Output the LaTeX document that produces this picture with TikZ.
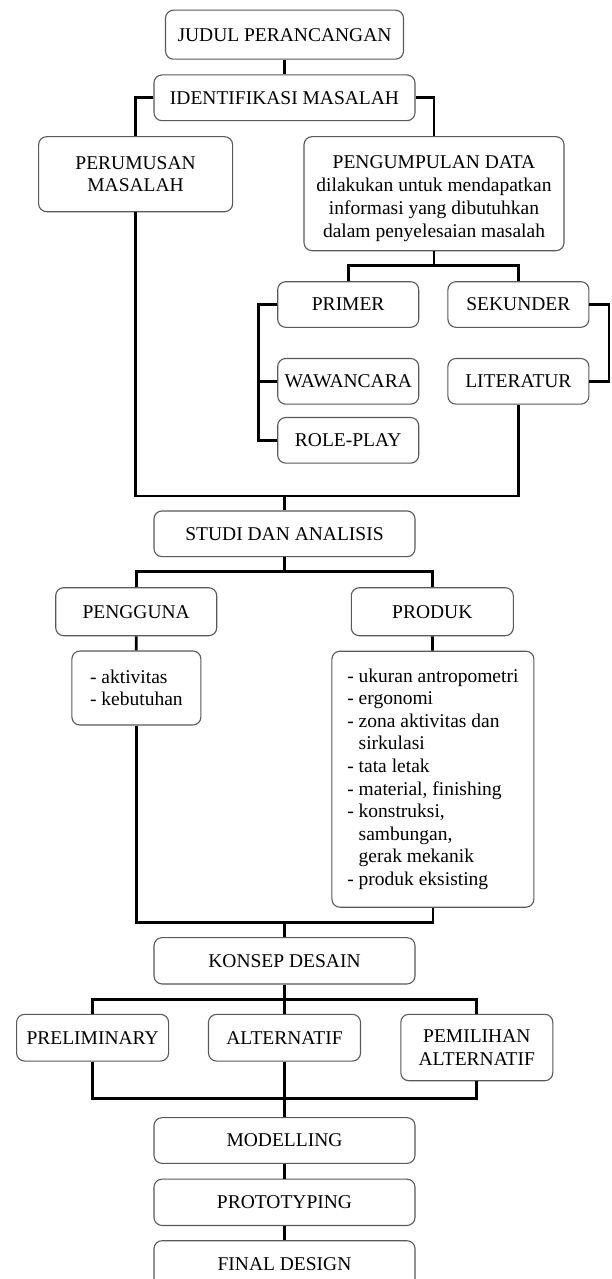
\documentclass[tikz,border=0pt]{standalone}
\usepackage{fontspec}
\setmainfont{Liberation Serif}
\begin{document}
\begin{tikzpicture}[x=1pt,y=-1pt,
  box/.style={draw=black!65, line width=1.1pt, rounded corners=8pt, fill=white,
    inner sep=0pt, align=center, font=\fontsize{19.5}{22.6}\selectfont},
  txt/.style={inner sep=0pt, align=center, font=\fontsize{19.5}{23.2}\selectfont},
  conn/.style={line width=2.8pt, black}]
\useasboundingbox (0,0) rectangle (611,1279);
\clip (0,0) rectangle (611,1279);
\fill[white] (0,0) rectangle (611,1279);
% nodes
\node[box, minimum width=238, minimum height=49] (judul) at (284.5,34.7) {JUDUL PERANCANGAN};
\node[box, minimum width=261, minimum height=45.7] (ident) at (284.5,97.8) {IDENTIFIKASI MASALAH};
\node[box, minimum width=194, minimum height=75] (perumusan) at (135.6,174.2) {PERUMUSAN\\MASALAH};
\node[box, minimum width=260, minimum height=114] (pengumpulan) at (434,193.7) {};
\node[txt] (pengtext) at (434,198.5) {PENGUMPULAN DATA\\dilakukan untuk mendapatkan\\informasi yang dibutuhkan\\dalam penyelesaian masalah};
\node[box, minimum width=141, minimum height=45.6] (primer) at (348.2,304.5) {PRIMER};
\node[box, minimum width=141, minimum height=45.6] (sekunder) at (518.4,304.5) {SEKUNDER};
\node[box, minimum width=141, minimum height=45.6] (wawancara) at (348.2,381.3) {WAWANCARA};
\node[box, minimum width=141, minimum height=45.6] (literatur) at (518.4,381.3) {LITERATUR};
\node[box, minimum width=141, minimum height=45.6] (roleplay) at (348.2,440.3) {ROLE-PLAY};
\node[box, minimum width=261, minimum height=45.7] (studi) at (284.5,533.8) {STUDI DAN ANALISIS};
\node[box, minimum width=161, minimum height=48] (pengguna) at (136.2,611.7) {PENGGUNA};
\node[box, minimum width=162, minimum height=48] (produk) at (432.3,611.7) {PRODUK};
\node[box, minimum width=129, minimum height=74, align=left] (aktiv) at (136.4,688) {- aktivitas\\- kebutuhan};
\node[box, minimum width=202, minimum height=256, align=left] (produklist) at (432.9,779.2)
  {- ukuran antropometri\\- ergonomi\\- zona aktivitas dan\\\hphantom{- }sirkulasi\\- tata letak\\- material, finishing\\- konstruksi,\\\hphantom{- }sambungan,\\\hphantom{- }gerak mekanik\\- produk eksisting};
\node[box, minimum width=261, minimum height=46.3] (konsep) at (284.5,960.8) {KONSEP DESAIN};
\node[box, minimum width=152, minimum height=46.7] (prelim) at (92.6,1037.7) {PRELIMINARY};
\node[box, minimum width=152, minimum height=46.7] (alternatif) at (284.5,1037.7) {ALTERNATIF};
\node[box, minimum width=152, minimum height=66.4] (pemilihan) at (476.8,1047.5) {PEMILIHAN\\ALTERNATIF};
\node[box, minimum width=261, minimum height=45.7] (modelling) at (284.5,1140.5) {MODELLING};
\node[box, minimum width=261, minimum height=46.3] (prototyping) at (284.5,1202.3) {PROTOTYPING};
\node[box, minimum width=261, minimum height=46] (final) at (284.5,1263.7) {FINAL DESIGN};
% junction coordinates
\coordinate (j1) at (434,265.7);
\coordinate (j2) at (284.5,496);
\coordinate (j3) at (284.5,571.7);
\coordinate (j4) at (284.5,922.7);
\coordinate (j5) at (284.5,999.3);
\coordinate (j6) at (284.5,1098.3);
% connectors
\draw[conn] (judul) -- (ident);
\draw[conn] (ident.west) -| (perumusan.north);
\draw[conn] (ident.east) -| (pengumpulan.north);
\draw[conn] (pengumpulan.south) -- (j1);
\draw[conn] (primer.north) |- (j1) -| (sekunder.north);
\draw[conn] (primer.west) -- ++(-18.5,0) |- (roleplay.west);
\draw[conn] (wawancara.west) -- ++(-18.5,0);
\draw[conn] (sekunder.east) -- ++(19.6,0) |- (literatur.east);
\draw[conn] (perumusan.south) |- (j2) -| (literatur.south);
\draw[conn] (j2) -- (studi.north);
\draw[conn] (studi.south) -- (j3);
\draw[conn] (pengguna.north) |- (j3) -| (produk.north);
\draw[conn] (pengguna) -- (aktiv);
\draw[conn] (produk) -- (produklist);
\draw[conn] (aktiv.south) |- (j4) -| (produklist.south);
\draw[conn] (j4) -- (konsep.north);
\draw[conn] (konsep.south) -- (j5);
\draw[conn] (prelim.north) |- (j5) -| (pemilihan.north);
\draw[conn] (j5) -- (alternatif.north);
\draw[conn] (prelim.south) |- (j6) -| (pemilihan.south);
\draw[conn] (alternatif.south) -- (modelling.north);
\draw[conn] (modelling) -- (prototyping);
\draw[conn] (prototyping) -- (final);
\end{tikzpicture}
\end{document}
